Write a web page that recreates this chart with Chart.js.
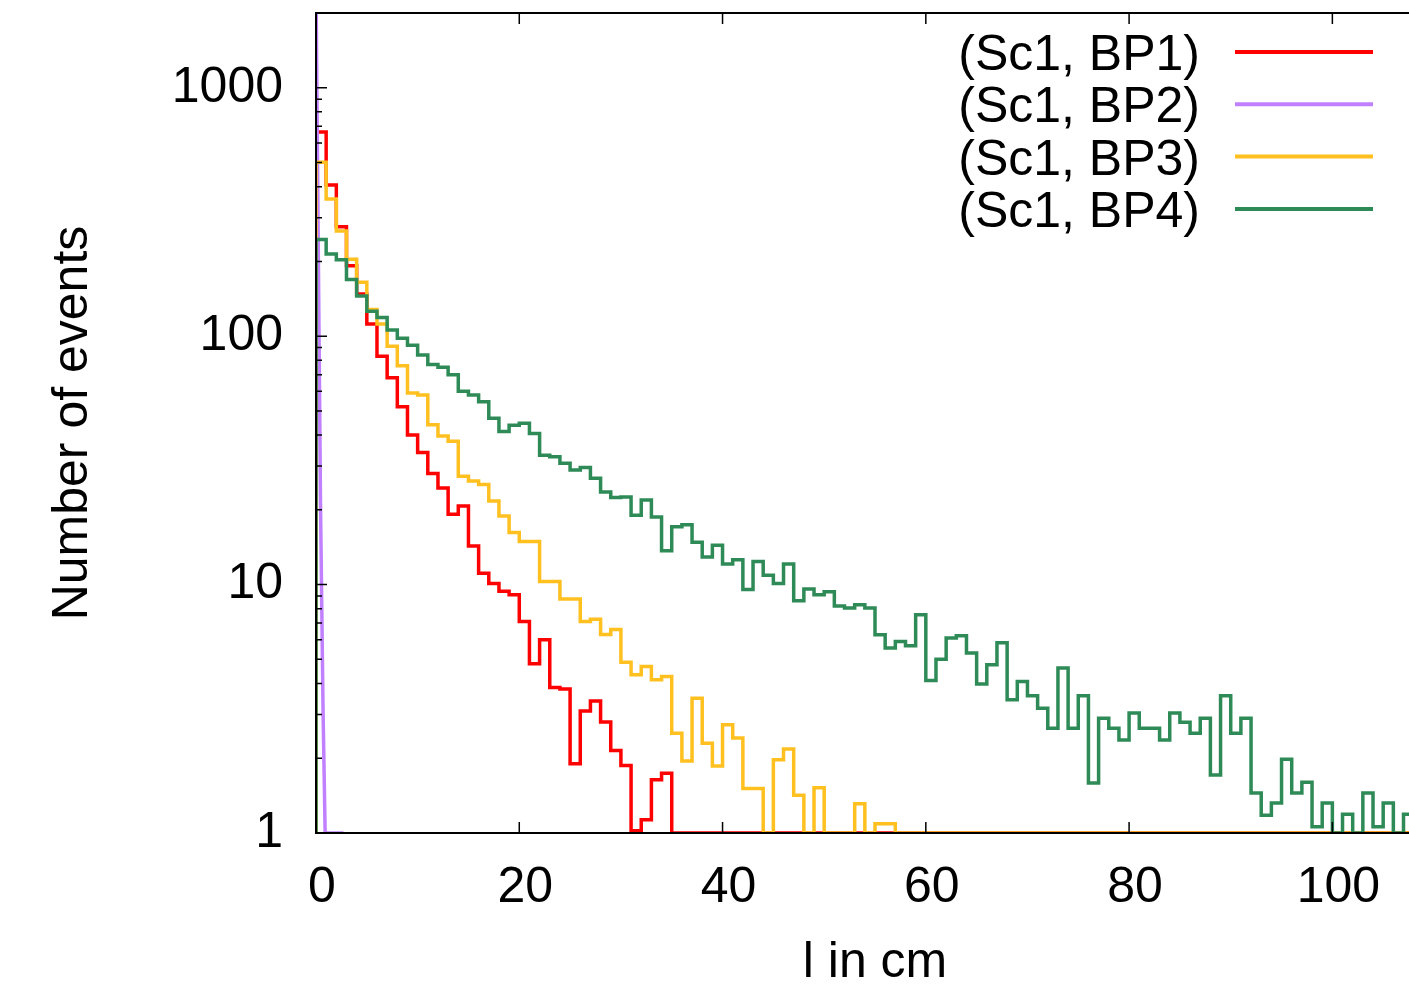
<!DOCTYPE html>
<html>
<head>
<meta charset="utf-8">
<script src="https://cdn.jsdelivr.net/npm/chart.js@4.4.1/dist/chart.umd.min.js"></script>
<style>
  html, body { margin: 0; padding: 0; background: #fff; overflow: hidden; }
  #wrap { width: 1409px; height: 988px; overflow: hidden; }
  canvas { display: block; }
</style>
</head>
<body>
<div id="wrap"><canvas id="chart" width="1440" height="988"></canvas></div>
<script>
// ── DATA ─────────────────────────────────────
const X_MAX = 110;
const Y_MIN = 1, Y_MAX = 2000;
const xTicks = [0, 20, 40, 60, 80, 100];
const yTicks = [1, 10, 100, 1000];
const seriesNames = ['(Sc1, BP1)', '(Sc1, BP2)', '(Sc1, BP3)', '(Sc1, BP4)'];
const seriesColors = ['#ff0000', '#c080ff', '#ffc020', '#2e8b57'];

// events per 1 cm bin (bin k = [k, k+1)); 1 = empty bin, drawn on the axis
const bp1 = [663, 406, 276, 192, 148, 112, 83, 68, 52, 40,
             34, 28, 24.5, 19.2, 20.7, 14.3, 11.1, 10.1, 9.4, 9.1,
             7.1, 4.8, 6.0, 3.85, 3.8, 1.9, 3.1, 3.4, 2.8, 2.15,
             1.87, 1.02, 1.13, 1.64, 1.74, 1];
const bp3 = [501, 357, 265, 204, 165, 128, 112, 91, 76, 59,
             58, 44, 39.6, 37.8, 27.3, 26.1, 25.3, 21.7, 18.9, 16.2,
             14.9, 14.9, 10.3, 10.3, 8.76, 8.76, 7.1, 7.25, 6.3, 6.6,
             4.87, 4.34, 4.68, 4.14, 4.27, 2.52, 1.95, 3.49, 2.3, 1.86,
             2.73, 2.41, 1.51, 1.51, 1, 1.97, 2.18, 1.42, 1, 1.52,
             1, 1, 1, 1.31, 1, 1.09, 1.09, 1];
const bp4 = [245, 214, 203, 169, 145, 126, 119, 106, 98, 92,
             84, 77, 75, 70, 60, 58, 54.5, 46.7, 41.3, 43.8,
             44.6, 40.6, 33.2, 32.7, 30.8, 28.9, 29.6, 26.8, 23.6, 22.4,
             22.5, 19.0, 21.9, 18.7, 13.7, 17.1, 17.4, 14.8, 12.9, 14.4,
             12.1, 12.6, 9.55, 12.4, 10.9, 10.1, 12.1, 8.6, 9.6, 9.1,
             9.35, 8.2, 8.05, 8.3, 8.05, 6.28, 5.55, 5.9, 5.67, 7.57,
             4.11, 5.0, 6.1, 6.23, 5.3, 3.98, 4.76, 5.83, 3.44, 4.07,
             3.57, 3.18, 2.64, 4.62, 2.64, 3.57, 1.59, 2.90, 2.64, 2.37,
             3.04, 2.64, 2.64, 2.37, 3.04, 2.79, 2.52, 2.90, 1.71, 3.57,
             2.52, 2.90, 1.45, 1.18, 1.32, 1.98, 1.45, 1.6, 1.06, 1.32,
             1, 1.19, 1, 1.45, 1.06, 1.32, 1, 1.19];
// BP2 is a single narrow spike at l ~ 0
const bp2X = [0, 0.45, 0.7, 0.9, 2.7];
const bp2Y = [2500, 20, 3, 1, 1];

const FONT = '"Liberation Sans", Arial, Helvetica, sans-serif';

// histogram -> step points: rise from the axis at 0, close at X_MAX
function toSteps(vals) {
  const pts = [{ x: 0, y: 1 }];
  vals.forEach((v, i) => pts.push({ x: i, y: v }));
  pts.push({ x: X_MAX, y: vals[vals.length - 1] });
  return pts;
}

// ── FRAME, TICKS, LEGEND (gnuplot style) ─────
const frame = {
  id: 'frame',
  afterDatasetsDraw(chart) {
    const { ctx, chartArea: a, scales: { x, y } } = chart;
    ctx.save();
    ctx.strokeStyle = '#000';
    ctx.lineWidth = 2;
    ctx.strokeRect(a.left, a.top, a.right - a.left, a.bottom - a.top);

    ctx.lineWidth = 1.5;
    ctx.beginPath();
    yTicks.forEach(v => {
      const py = y.getPixelForValue(v);
      ctx.moveTo(a.left, py); ctx.lineTo(a.left + 11, py);
    });
    for (let d = Y_MIN; d < Y_MAX; d *= 10) {
      for (let m = 2; m <= 9; m++) {
        if (m * d > Y_MAX) break;
        const py = y.getPixelForValue(m * d);
        ctx.moveTo(a.left, py); ctx.lineTo(a.left + 6, py);
      }
    }
    xTicks.forEach(v => {
      const px = x.getPixelForValue(v);
      ctx.moveTo(px, a.bottom); ctx.lineTo(px, a.bottom - 11);
      ctx.moveTo(px, a.top); ctx.lineTo(px, a.top + 11);
    });
    ctx.stroke();

    ctx.font = '50px ' + FONT;
    ctx.textAlign = 'right';
    ctx.textBaseline = 'alphabetic';
    ctx.fillStyle = '#000';
    seriesNames.forEach((name, i) => {
      const ly = a.top + 39 + i * 52.3;
      ctx.fillText(name, a.right - 234, ly + 18);
      ctx.strokeStyle = seriesColors[i];
      ctx.lineWidth = 4;
      ctx.beginPath();
      ctx.moveTo(a.right - 199, ly);
      ctx.lineTo(a.right - 61, ly);
      ctx.stroke();
    });
    ctx.restore();
  }
};

const common = { borderWidth: 3.5, pointRadius: 0, fill: false, tension: 0 };

new Chart(document.getElementById('chart'), {
  type: 'line',
  data: {
    datasets: [
      { ...common, label: seriesNames[0], data: toSteps(bp1), borderColor: seriesColors[0], stepped: 'before', order: 4 },
      { ...common, label: seriesNames[1], data: bp2X.map((v, i) => ({ x: v, y: bp2Y[i] })), borderColor: seriesColors[1], order: 3 },
      { ...common, label: seriesNames[2], data: toSteps(bp3), borderColor: seriesColors[2], stepped: 'before', order: 2 },
      { ...common, label: seriesNames[3], data: toSteps(bp4), borderColor: seriesColors[3], stepped: 'before', order: 1 }
    ]
  },
  options: {
    responsive: false,
    devicePixelRatio: 1,
    animation: false,
    layout: { padding: { left: 0, top: 13, right: 6, bottom: 0 } },
    plugins: { legend: { display: false }, tooltip: { enabled: false } },
    scales: {
      x: {
        type: 'linear', min: 0, max: X_MAX,
        afterFit: s => { s.height = 155; s.paddingLeft = 0; s.paddingRight = 0; },
        afterBuildTicks: s => { s.ticks = xTicks.map(v => ({ value: v })); },
        grid: { display: true, drawOnChartArea: false, drawTicks: false },
        border: { display: false },
        ticks: {
          autoSkip: false, maxRotation: 0, padding: 30, labelOffset: 6,
          color: '#000', font: { family: FONT, size: 50, lineHeight: 1 },
          callback: v => String(v)
        },
        title: {
          display: true, text: 'l in cm', color: '#000',
          font: { family: FONT, size: 50, lineHeight: 1 }, padding: { top: 0, bottom: 0 }
        }
      },
      y: {
        type: 'logarithmic', min: Y_MIN, max: Y_MAX,
        afterFit: s => { s.width = 316; s.paddingTop = 0; s.paddingBottom = 0; },
        afterBuildTicks: s => { s.ticks = yTicks.map(v => ({ value: v })); },
        grid: { display: true, drawOnChartArea: false, drawTicks: false },
        border: { display: false },
        ticks: {
          autoSkip: false, padding: 33,
          color: '#000', font: { family: FONT, size: 50, lineHeight: 1 },
          callback: v => String(v)
        },
        title: {
          display: true, text: 'Number of events', color: '#000',
          font: { family: FONT, size: 50, lineHeight: 1 }, padding: { top: 48, bottom: 0 }
        }
      }
    }
  },
  plugins: [frame]
});
</script>
</body>
</html>
